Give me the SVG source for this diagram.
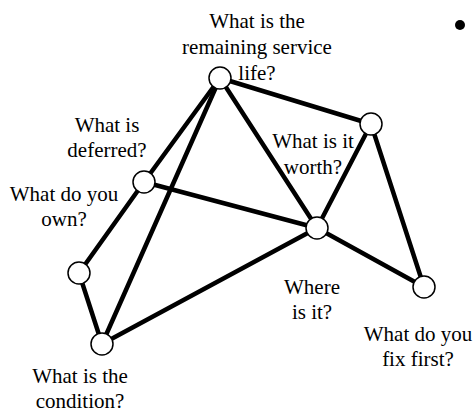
<svg xmlns="http://www.w3.org/2000/svg" width="475" height="413" viewBox="0 0 475 413">
<style>
.e{stroke:#000;stroke-width:4.5;stroke-linecap:round;fill:none}
.n{fill:#fff;stroke:#000;stroke-width:1.5}
text{font-family:"Liberation Serif","Times New Roman",serif;font-size:21px;fill:#000;text-anchor:middle}
</style>
<rect width="475" height="413" fill="#fff"/>
<g id="connectors">
<line class="e" x1="220" y1="78" x2="371" y2="124"/>
<line class="e" x1="220" y1="78" x2="317" y2="228"/>
<line class="e" x1="220" y1="78" x2="144" y2="182"/>
<line class="e" x1="220" y1="78" x2="102" y2="344"/>
<line class="e" x1="144" y1="182" x2="317" y2="228"/>
<line class="e" x1="144" y1="182" x2="79" y2="273"/>
<line class="e" x1="79" y1="273" x2="102" y2="344"/>
<line class="e" x1="102" y1="344" x2="317" y2="228"/>
<line class="e" x1="371" y1="124" x2="317" y2="228"/>
<line class="e" x1="371" y1="124" x2="424" y2="287"/>
<line class="e" x1="317" y1="228" x2="424" y2="287"/>
</g>
<circle cx="460" cy="25" r="5" fill="#000"/>
<g id="n-life"><circle class="n" cx="220" cy="78" r="11"/><text x="257" y="28">What is the</text><text x="257" y="54">remaining service</text><text x="257" y="80">life?</text></g>
<g id="n-deferred"><circle class="n" cx="144" cy="182" r="11"/><text x="107" y="132">What is</text><text x="107" y="157">deferred?</text></g>
<g id="n-own"><circle class="n" cx="79" cy="273" r="11"/><text x="64" y="201">What do you</text><text x="64" y="226">own?</text></g>
<g id="n-worth"><circle class="n" cx="371" cy="124" r="11"/><text x="313" y="148">What is it</text><text x="313" y="174">worth?</text></g>
<g id="n-where"><circle class="n" cx="317" cy="228" r="11"/><text x="312" y="294">Where</text><text x="312" y="319">is it?</text></g>
<g id="n-fix"><circle class="n" cx="424" cy="287" r="11"/><text x="418" y="341">What do you</text><text x="418" y="366">fix first?</text></g>
<g id="n-condition"><circle class="n" cx="102" cy="344" r="11"/><text x="80" y="383">What is the</text><text x="80" y="408">condition?</text></g>
</svg>
